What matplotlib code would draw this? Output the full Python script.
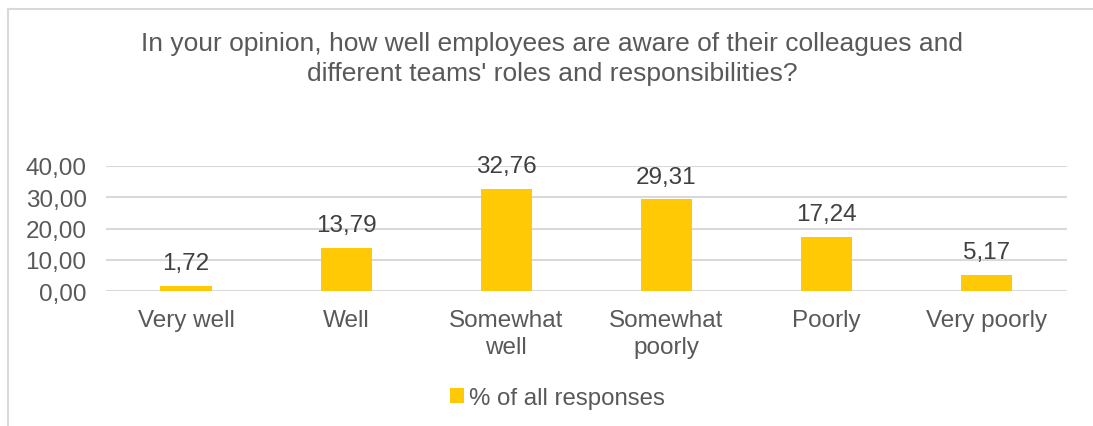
import matplotlib.pyplot as plt
from matplotlib.lines import Line2D

categories = ["Very well", "Well", "Somewhat\nwell", "Somewhat\npoorly", "Poorly", "Very poorly"]
values = [1.72, 13.79, 32.76, 29.31, 17.24, 5.17]
y_ticks = [0, 10, 20, 30, 40]
series_name = "% of all responses"
title = ("In your opinion, how well employees are aware of their colleagues and\n"
         "different teams' roles and responsibilities?")

bar_color = "#FFC905"
grid_color = "#D9D9D9"
text_color = "#595959"

plt.rcParams['font.family'] = ['Liberation Sans', 'DejaVu Sans']

fig = plt.figure(figsize=(10.93, 4.27), dpi=100)
ax = fig.add_axes([0.097, 0.316, 0.879, 0.293])

x = list(range(len(categories)))
bars = ax.bar(x, values, width=0.32, color=bar_color, label=series_name, zorder=3)

for xi, v in zip(x, values):
    ax.annotate(f"{v:.2f}".replace(".", ","), (xi, v), xytext=(0, 8.5),
                textcoords="offset points", ha="center", va="bottom",
                fontsize=17.5, color="#404040")

ax.set_xlim(-0.5, len(categories) - 0.5)
ax.set_ylim(0, 40)
ax.set_yticks(y_ticks)
ax.set_yticklabels([f"{t:.2f}".replace(".", ",") for t in y_ticks])
ax.set_xticks(x)
ax.set_xticklabels(categories, linespacing=1.3)
ax.tick_params(axis="both", length=0, labelsize=17.5, colors=text_color)
ax.tick_params(axis="x", pad=13)
ax.tick_params(axis="y", pad=14)
ax.yaxis.grid(True, color=grid_color, linewidth=1.5, zorder=0)
for side in ax.spines.values():
    side.set_visible(False)

fig.text(0.505, 0.862, title, ha="center", va="center", fontsize=19,
         color=text_color, linespacing=1.33)

fig.legend(handles=[bars], labels=[series_name], loc="center",
           bbox_to_anchor=(0.51, 0.066), frameon=False, fontsize=17.3,
           handlelength=0.55, handleheight=0.55, handletextpad=0.2,
           labelcolor=text_color)

# outer frame (top and left edges only)
fig.add_artist(Line2D([8 / 1093, 1], [1 - 10 / 427, 1 - 10 / 427],
                      transform=fig.transFigure, color=grid_color, linewidth=1.5))
fig.add_artist(Line2D([8 / 1093, 8 / 1093], [0, 1 - 10 / 427],
                      transform=fig.transFigure, color=grid_color, linewidth=1.5))

fig.savefig("out.png", dpi=100, facecolor="white")
